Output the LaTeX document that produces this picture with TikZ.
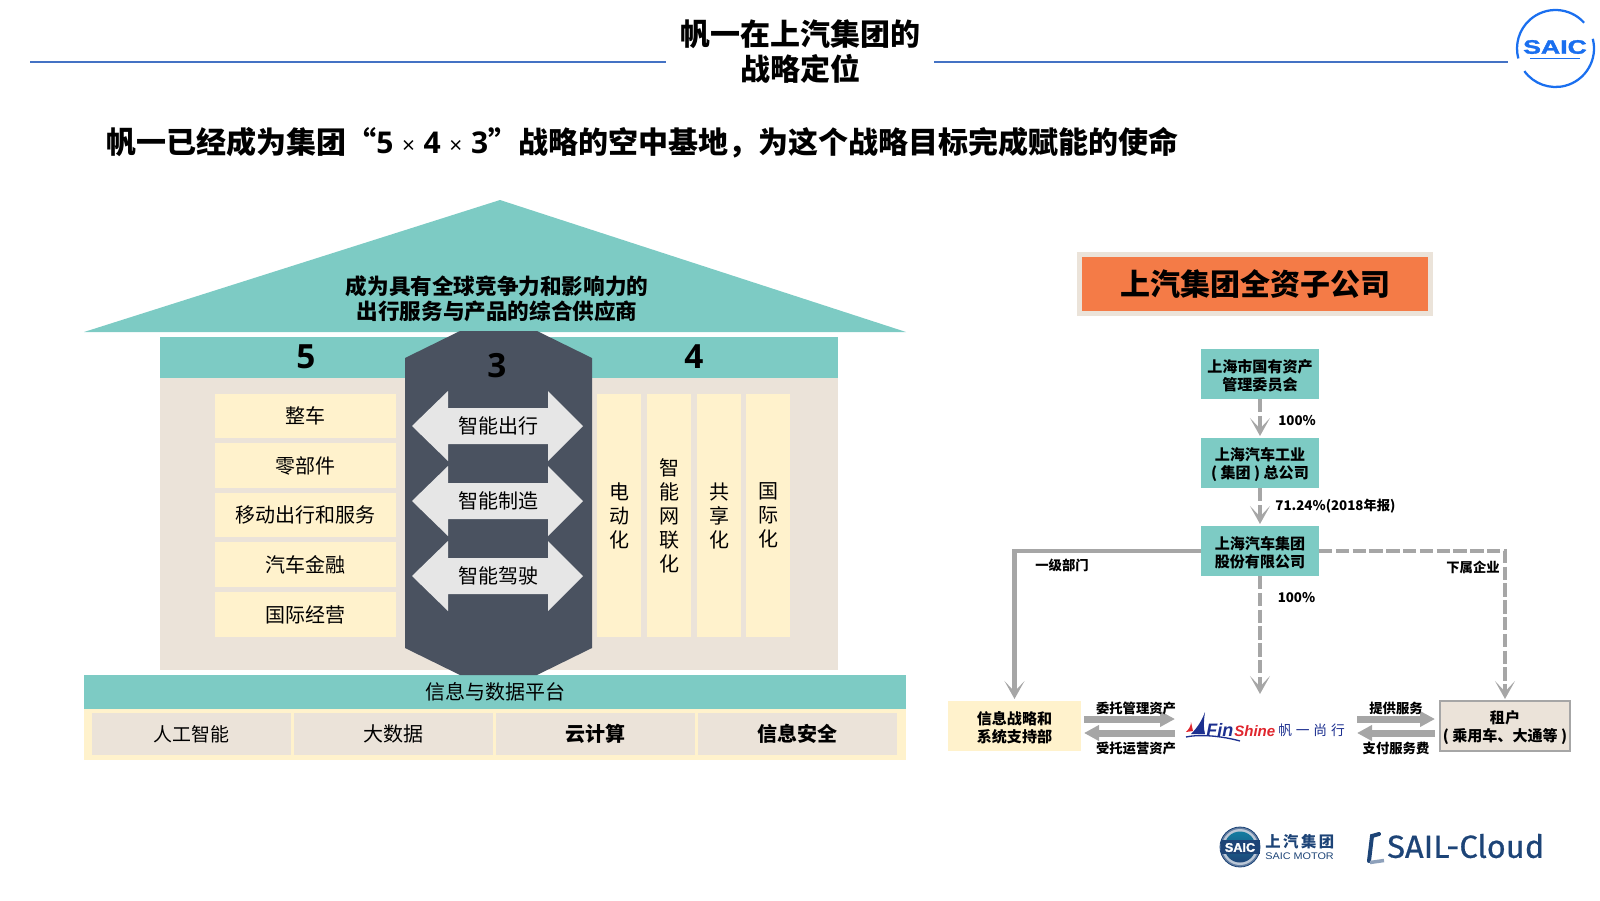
\documentclass[tikz,border=0pt]{standalone}
\usepackage{fontspec}
\setmainfont{Noto Sans CJK SC}
\newfontfamily\logofont{Liberation Sans}[BoldFeatures={FakeBold=1.5}]
\newfontfamily\cloudfont{Fira Sans}[UprightFeatures={FakeBold=0.6}]
\newfontfamily\dgt{Open Sans}
\usetikzlibrary{arrows.meta,calc,positioning}
\definecolor{teal}{HTML}{7DCBC4}
\definecolor{sand}{HTML}{EBE3D9}
\definecolor{cream}{HTML}{FFF2CC}
\definecolor{slate}{HTML}{4A5260}
\definecolor{orangebox}{HTML}{F47B47}
\definecolor{linegray}{HTML}{A6A6A6}
\definecolor{arrowfill}{HTML}{E6E6E6}
\definecolor{ruleblue}{HTML}{4472C4}
\definecolor{saicblue}{HTML}{1A6FEF}
\definecolor{navy}{HTML}{1D4477}
\definecolor{finblue}{HTML}{1C2F8F}
\definecolor{finred}{HTML}{E0262E}
\newcommand{\fs}[1]{\fontsize{#1}{#1}\selectfont}
\newcommand{\fsl}[2]{\fontsize{#1}{#2}\selectfont}
\newcommand{\dn}[1]{\raisebox{-2pt}{#1}}
\newcommand{\lowr}{\rule{0pt}{12.2pt}}
\newcommand{\bx}[7]{% name x1 y1 x2 y2 style text
  \pgfmathsetlengthmacro{\bw}{(#4-#2)*0.75pt}
  \pgfmathsetlengthmacro{\bh}{(#5-#3)*0.75pt}
  \node[rect,#6,minimum width=\bw,minimum height=\bh] (#1) at ({(#2+#4)/2},{(#3+#5)/2}) {#7};}
\tikzset{
  rect/.style={inner sep=0pt,outer sep=0pt,align=center,text=black},
  body/.style={font=\fs{15}},
  vert/.style={font=\fsl{15}{18}},
  small/.style={font=\fsl{11.3}{13.8}\bfseries,align=center},
  tag/.style={font=\fs{10}\bfseries,inner sep=0pt},
  conn/.style={draw=linegray,line width=3.2pt,dash pattern=on 10pt off 2.6pt,-{Stealth[length=13.5pt,width=15pt,inset=8pt]},shorten >=1.5pt},
  connd/.style={conn},
  flow/.style={draw=linegray,line width=5.25pt,-{Triangle[length=11.25pt,width=11.25pt]}},
}
\begin{document}
\begin{tikzpicture}[x=0.75pt,y=-0.75pt]
\useasboundingbox (0,0) rectangle (1600,900);
% header
\coordinate (la) at (30,62); \coordinate (lb) at (666,62);
\coordinate (ra) at (934,62); \coordinate (rb) at (1508,62);
\draw[ruleblue,line width=1.8pt] (la) -- (lb);
\draw[ruleblue,line width=1.8pt] (ra) -- (rb);
\node[font=\fsl{22.5}{26.5}\bfseries,align=center,inner sep=0pt] (title) at (800,51.5) {帆一在上汽集团的\\战略定位};
\node[font=\fs{22.5}\bfseries,anchor=west,inner sep=0pt] (sub) at (106,143) {帆一已经成为集团“{\dgt 5}\hspace{6.5pt}{\dgt\mdseries\fs{17}×}\hspace{6.5pt}{\dgt 4}\hspace{6.5pt}{\dgt\mdseries\fs{17}×}\hspace{6.5pt}{\dgt 3}”战略的空中基地，为这个战略目标完成赋能的使命};
% top-right logo
\coordinate (lc) at (1555.5,48.5);
\draw[saicblue,line width=1.7pt] (lc) ++(-42:38.5) arc[start angle=-42,end angle=-195,radius=38.5];
\draw[saicblue,line width=1.7pt] (lc) ++(-14.6:38.5) arc[start angle=-14.6,end angle=144,radius=38.5];
\node[font=\logofont\fs{14.6}\bfseries,text=saicblue,xscale=1.37,transform shape,inner sep=0pt] (saic) at (1555,47) {SAIC};
\draw[saicblue,line width=.6pt] (1530,58) -- (1580,58);
% house
\fill[teal] (84,332) -- (500,200) -- (906,332) -- cycle;
\node[font=\fsl{16.2}{19}\bfseries,align=center,inner sep=0pt] (roof) at (497,299) {成为具有全球竞争力和影响力的\\出行服务与产品的综合供应商};
\bx{wall}{160}{378}{838}{670}{fill=sand}{}
\bx{band}{160}{337}{838}{378}{fill=teal}{}
\node[font=\dgt\fs{25}\bfseries,inner sep=0pt] (five) at (306,357) {5};
\node[font=\dgt\fs{25}\bfseries,inner sep=0pt] (four) at (694,357) {4};
\bx{i1}{215}{394}{396}{438}{fill=cream,body}{\dn{整车}}
\bx{i2}{215}{443}{396}{488}{fill=cream,body}{\dn{零部件}}
\bx{i3}{215}{493}{396}{537}{fill=cream,body}{\dn{移动出行和服务}}
\bx{i4}{215}{542}{396}{587}{fill=cream,body}{\dn{汽车金融}}
\bx{i5}{215}{592}{396}{637}{fill=cream,body}{\dn{国际经营}}
\bx{c1}{597}{394}{641}{637}{fill=cream,vert}{电\\动\\化}
\bx{c2}{647}{394}{691}{637}{fill=cream,vert}{智\\能\\网\\联\\化}
\bx{c3}{697}{394}{741}{637}{fill=cream,vert}{共\\享\\化}
\bx{c4}{746}{394}{790}{637}{fill=cream,vert}{国\\际\\化}
% platform
\bx{plat}{84}{675}{906}{709}{fill=teal,body}{\dn{信息与数据平台}}
\bx{base}{84}{709}{906}{760}{fill=cream}{}
\bx{p1}{92}{713}{291}{755}{fill=sand,font=\fs{14.2}}{\dn{人工智能}}
\bx{p2}{294}{713}{493}{755}{fill=sand,font=\fs{15}}{\dn{大数据}}
\bx{p3}{496}{713}{695}{755}{fill=sand,font=\fs{15}\bfseries}{\dn{云计算}}
\bx{p4}{698}{713}{897}{755}{fill=sand,font=\fs{15}\bfseries}{\dn{信息安全}}
% hexagon
\fill[slate] (460,331) -- (537,331) -- (592,358) -- (592,648) -- (537,675) -- (460,675) -- (405,648) -- (405,358) -- cycle;
\node[font=\dgt\fs{25}\bfseries,inner sep=0pt] (three) at (497,366) {3};
\foreach \yy/\nm/\tx in {426/a1/智能出行,501/a2/智能制造,576/a3/智能驾驶}{
  \fill[arrowfill] (412,\yy) -- (448,\yy-35) -- (448,\yy-18) -- (548,\yy-18) -- (548,\yy-35) -- (583,\yy) -- (548,\yy+35) -- (548,\yy+18) -- (448,\yy+18) -- (448,\yy+35) -- cycle;
  \node[body,inner sep=0pt] (\nm) at (498,\yy) {\dn{\tx}};
}
% right side
\bx{hdo}{1077}{252}{1433}{316}{fill=sand}{}
\bx{hd}{1082}{257}{1428}{311}{fill=orangebox,font=\fs{22.5}\bfseries}{\raisebox{-.6pt}{上汽集团全资子公司}}
\bx{b1}{1201}{349}{1319}{399}{fill=teal,small}{\lowr 上海市国有资产\\管理委员会}
\bx{b2}{1201}{438}{1319}{488}{fill=teal,small}{\lowr 上海汽车工业\\( 集团 ) 总公司}
\bx{b3}{1201}{526}{1319}{576}{fill=teal,small}{\lowr 上海汽车集团\\股份有限公司}
\bx{d1}{948}{701}{1081}{751}{fill=cream,small}{\lowr 信息战略和\\系统支持部}
\bx{d2}{1440}{701}{1570}{751}{fill=sand,draw=linegray,line width=1.1pt,small}{\lowr 租户\\( 乘用车、大通等 )}
\draw[conn] (b1) -- (b2);
\draw[conn] (b2) -- (b3);
\coordinate (mid) at (1260,696);
\draw[conn,dash pattern=on 60pt off 0pt] (b3.west) -| (d1.north);
\draw[connd] (b3.south) -- (mid);
\draw[connd] (b3.east) -| (d2.north);
\node[tag] (t1) at (1297,420.5) {100\%};
\node[tag] (t2) at (1335.5,506) {71.24\%(2018年报)};
\node[tag] (t3) at (1296.5,598) {100\%};
\node[tag] (t4) at (1062,565) {一级部门};
\node[tag] (t5) at (1473,567) {下属企业};
% Finshine logo
\fill[finblue] (1205,712) .. controls (1202,720) and (1198,727) .. (1191,734) -- (1205,734) .. controls (1203,727) and (1204,719) .. (1205,712) -- cycle;
\fill[finred] (1191,722) .. controls (1191,726) and (1189,729) .. (1186,732) -- (1193,731) -- cycle;
\draw[finblue,line width=1pt] (1186,737) .. controls (1200,734) and (1222,736) .. (1240,741);
\node[font=\logofont\fs{13.5}\bfseries\itshape,text=finblue,inner sep=0pt,anchor=west] (fin) at (1206,730) {Fin};
\node[font=\logofont\fs{11.3}\bfseries\itshape,text=finred,inner sep=0pt,anchor=west] (shine) at (1234,731) {Shine};
\node[font=\fs{10.3},text=finblue,inner sep=0pt,anchor=west] (cn) at (1278,730) {帆\hspace{2.9pt}一\hspace{2.9pt}尚\hspace{2.9pt}行};
\coordinate (fa) at (1175,719); \coordinate (fb) at (1175,733);
\coordinate (ga) at (1357,719); \coordinate (gb) at (1357,733);
\draw[flow] ($(d1.east)+(3,-7)$) -- (fa);
\draw[flow] (fb) -- ($(d1.east)+(3,7)$);
\draw[flow] (ga) -- ($(d2.west)+(-5,-7)$);
\draw[flow] ($(d2.west)+(-5,7)$) -- (gb);
\node[tag] (l1) at (1136,708) {委托管理资产};
\node[tag] (l2) at (1136,748) {受托运营资产};
\node[tag] (l3) at (1396,708) {提供服务};
\node[tag] (l4) at (1396,748) {支付服务费};
% footer logos
\fill[navy!70!white,draw=navy,line width=.6pt] (1240,847) circle (20);
\fill[white!70!navy] (1240,847) circle (18);
\shade[top color=navy!70!cyan,bottom color=navy] (1240,847) circle (15.5);
\fill[navy] (1220.5,840) rectangle (1259.5,854);
\node[font=\logofont\fs{9.5}\bfseries,text=white,inner sep=0pt] (sm) at (1240,847.5) {SAIC};
\node[font=\fs{11.5}\bfseries,text=navy,inner sep=0pt,anchor=west] (sg) at (1265,842) {上\,汽\,集\,团};
\node[font=\logofont\fs{7.2},text=navy,inner sep=0pt,anchor=west,xscale=1.13,transform shape] (sm2) at (1265,856) {SAIC MOTOR};
\draw[navy,line width=3pt,line cap=round] (1379,834) -- (1372,836) -- (1369,861);
\draw[navy!50!white,line width=2.6pt] (1370,862.5) -- (1384,860.5);
\node[font=\cloudfont\fs{24},text=navy,inner sep=0pt,anchor=west,xscale=1.02,transform shape] (cloud) at (1387,846) {SAIL-Cloud};
\end{tikzpicture}
\end{document}
